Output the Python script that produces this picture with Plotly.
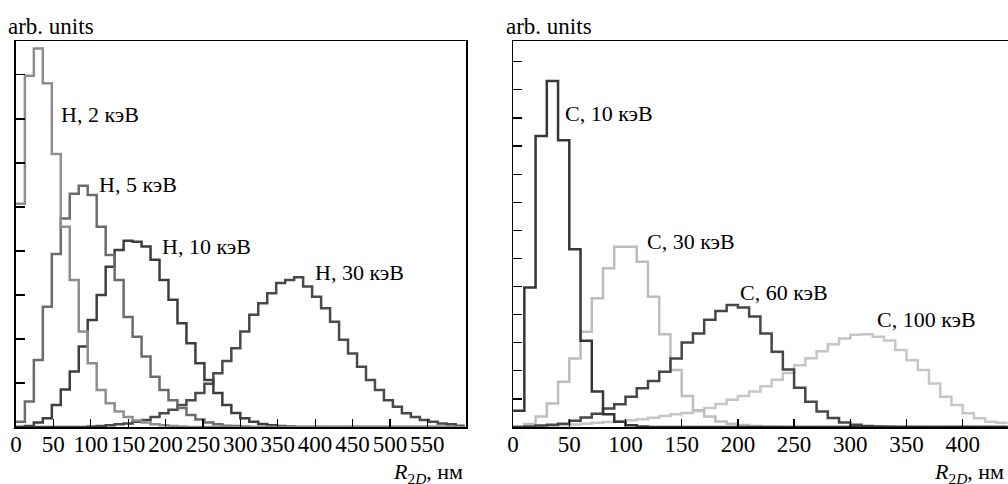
import plotly.graph_objects as go

# ---------------- data ----------------
H_BIN_WIDTH = 12   # nm
C_BIN_WIDTH = 10   # nm

h_labels = ["H, 2 кэВ", "H, 5 кэВ", "H, 10 кэВ", "H, 30 кэВ"]
c_labels = ["C, 10 кэВ", "C, 30 кэВ", "C, 60 кэВ", "C, 100 кэВ"]

h2 = [5.07, 7.98, 8.6, 7.81, 6.2, 4.55, 3.34, 2.17, 1.45, 0.84, 0.54, 0.35, 0.23,
      0.15, 0.1, 0.06, 0.04, 0.02, 0.01, 0, 0, 0, 0, 0, 0, 0, 0, 0, 0, 0, 0, 0, 0,
      0, 0, 0, 0, 0, 0, 0, 0, 0, 0, 0, 0, 0, 0, 0, 0, 0]
h5 = [0.12, 0.58, 1.52, 2.73, 3.93, 4.74, 5.3, 5.48, 5.27, 4.55, 3.91, 3.34, 2.5,
      2.05, 1.6, 1.14, 0.84, 0.61, 0.43, 0.27, 0.17, 0.1, 0.06, 0.03, 0.02, 0.01,
      0, 0, 0, 0, 0, 0, 0, 0, 0, 0, 0, 0, 0, 0, 0, 0, 0, 0, 0, 0, 0, 0, 0, 0]
h10 = [0, 0.02, 0.1, 0.2, 0.5, 0.85, 1.26, 1.83, 2.43, 3.0, 3.64, 4.02, 4.23, 4.21,
       4.1, 3.8, 3.34, 2.89, 2.36, 1.9, 1.45, 1.07, 0.77, 0.5, 0.32, 0.2, 0.12,
       0.07, 0.04, 0.02, 0.01, 0, 0, 0, 0, 0, 0, 0, 0, 0, 0, 0, 0, 0, 0, 0, 0, 0, 0, 0]
h30 = [0, 0, 0, 0, 0, 0, 0, 0, 0.01, 0.02, 0.04, 0.06, 0.08, 0.12, 0.16, 0.23, 0.31,
       0.39, 0.5, 0.61, 0.77, 0.98, 1.22, 1.5, 1.79, 2.17, 2.55, 2.81, 3.04, 3.27,
       3.34, 3.40, 3.19, 2.96, 2.70, 2.39, 1.98, 1.67, 1.37, 1.07, 0.84, 0.61, 0.46,
       0.31, 0.23, 0.16, 0.12, 0.08, 0.06, 0.03]

c10 = [0.58, 4.97, 10.36, 12.32, 10.21, 6.33, 3.07, 1.26, 0.45, 0.19, 0.06, 0.02,
       0, 0, 0, 0, 0, 0, 0, 0, 0, 0, 0, 0, 0, 0, 0, 0, 0, 0, 0, 0, 0, 0, 0, 0, 0,
       0, 0, 0, 0, 0, 0, 0]
c30 = [0.02, 0.11, 0.37, 0.84, 1.61, 2.44, 3.39, 4.58, 5.65, 6.42, 6.42, 5.88, 4.64,
       3.3, 2.03, 1.1, 0.6, 0.37, 0.2, 0.12, 0.07, 0.04, 0.02, 0.01, 0, 0, 0, 0, 0,
       0, 0, 0, 0, 0, 0, 0, 0, 0, 0, 0, 0, 0, 0, 0]
c60 = [0, 0.02, 0.05, 0.08, 0.12, 0.22, 0.34, 0.47, 0.66, 0.81, 1.08, 1.38, 1.64,
       1.97, 2.44, 3.01, 3.33, 3.82, 4.13, 4.34, 4.25, 3.93, 3.33, 2.68, 2.05, 1.4,
       0.9, 0.55, 0.32, 0.16, 0.08, 0.04, 0.02, 0.01, 0, 0, 0, 0, 0, 0, 0, 0, 0, 0]
c100 = [0, 0.01, 0.02, 0.04, 0.06, 0.09, 0.12, 0.15, 0.18, 0.21, 0.24, 0.28, 0.33,
        0.39, 0.45, 0.5, 0.57, 0.68, 0.82, 0.97, 1.1, 1.26, 1.45, 1.68, 1.92, 2.2,
        2.45, 2.7, 2.95, 3.15, 3.28, 3.30, 3.21, 3.08, 2.74, 2.38, 2.03, 1.55, 1.08,
        0.78, 0.49, 0.31, 0.19, 0.15]

h_ticks = [0, 50, 100, 150, 200, 250, 300, 350, 400, 450, 500, 550]
c_ticks = [0, 50, 100, 150, 200, 250, 300, 350, 400]
y_title = "arb. units"
x_title = "<i>R</i><sub>2<i>D</i></sub>, нм"

# ---------------- figure ----------------
FONT = "Liberation Serif"
W, H = 1008, 484


def step(values, width, color, xa, ya):
    x = [i * width for i in range(len(values) + 1)]
    y = list(values) + [values[-1]]
    return go.Scatter(x=x, y=y, mode="lines", xaxis=xa, yaxis=ya,
                      line=dict(shape="hv", color=color, width=2.5),
                      showlegend=False, hoverinfo="skip")


fig = go.Figure()
fig.add_trace(step(h30, H_BIN_WIDTH, "#4a4a4a", "x", "y"))
fig.add_trace(step(h10, H_BIN_WIDTH, "#3e3e3e", "x", "y"))
fig.add_trace(step(h5, H_BIN_WIDTH, "#6c6c6c", "x", "y"))
fig.add_trace(step(h2, H_BIN_WIDTH, "#8e8e8e", "x", "y"))

fig.add_trace(step(c100, C_BIN_WIDTH, "#c6c6c6", "x2", "y2"))
fig.add_trace(step(c30, C_BIN_WIDTH, "#bdbdbd", "x2", "y2"))
fig.add_trace(step(c60, C_BIN_WIDTH, "#474747", "x2", "y2"))
fig.add_trace(step(c10, C_BIN_WIDTH, "#363636", "x2", "y2"))

axis_common = dict(showline=True, linecolor="black", linewidth=1.5, mirror=True,
                   ticks="inside", tickcolor="black", tickwidth=1.2,
                   showgrid=False, zeroline=False, automargin=False,
                   tickfont=dict(family=FONT, size=23, color="black"))

fig.update_layout(
    width=W, height=H,
    margin=dict(l=0, r=0, t=0, b=0),
    paper_bgcolor="white", plot_bgcolor="white",
    font=dict(family=FONT, size=22, color="black"),
    xaxis=dict(domain=[15.9 / W, 466 / W], range=[0, 601.7],
               tickvals=h_ticks, ticklen=8, anchor="y", ticklabelstandoff=-4,
               **axis_common),
    yaxis=dict(domain=[1 - 427 / H, 1 - 41 / H], range=[0, 8.77],
               tickvals=list(range(1, 9)), ticklen=9, showticklabels=False,
               anchor="x", **axis_common),
    xaxis2=dict(domain=[513.1 / W, 1.0], range=[0, 440.3],
                tickvals=c_ticks, ticklen=8, anchor="y2", ticklabelstandoff=-4,
                **axis_common),
    yaxis2=dict(domain=[1 - 427 / H, 1 - 41 / H], range=[0, 13.74],
                tickvals=list(range(1, 14)), ticklen=9, showticklabels=False,
                anchor="x2", **axis_common),
)

# curve labels (data coordinates)
h_pos = [(57.6, 7.11), (108.4, 5.52), (192.6, 4.11), (397.2, 3.52)]
c_pos = [(44.4, 11.17), (117.3, 6.62), (200.1, 4.8), (322.0, 3.84)]
for txt, (x, y) in zip(h_labels, h_pos):
    fig.add_annotation(x=x, y=y, xref="x", yref="y", text=txt, showarrow=False,
                       xanchor="left", yanchor="middle",
                       font=dict(family=FONT, size=22, color="black"))
for txt, (x, y) in zip(c_labels, c_pos):
    fig.add_annotation(x=x, y=y, xref="x2", yref="y2", text=txt, showarrow=False,
                       xanchor="left", yanchor="middle",
                       font=dict(family=FONT, size=22, color="black"))

# axis titles
for xpx in (6, 504):
    fig.add_annotation(x=xpx / W, y=1 - 27 / H, xref="paper", yref="paper",
                       text=y_title, showarrow=False, xanchor="left", yanchor="middle",
                       font=dict(family=FONT, size=23, color="black"))
for xpx in (465, 1006):
    fig.add_annotation(x=xpx / W, y=1 - 473 / H, xref="paper", yref="paper",
                       text=x_title, showarrow=False, xanchor="right", yanchor="middle",
                       font=dict(family=FONT, size=22, color="black"))

fig.write_html("out.html",
               config={"displayModeBar": False, "staticPlot": True},
               post_script="document.body.style.margin='0';"
                           "document.body.style.padding='0';")
